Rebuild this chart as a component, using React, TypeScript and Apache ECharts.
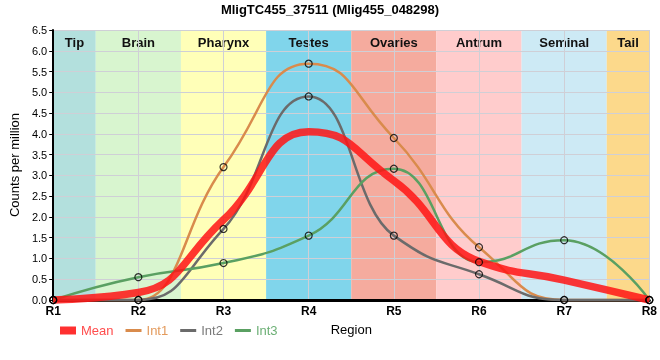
import React, { useEffect, useRef } from "react";
import * as echarts from "echarts";

const regionLabels = ["R1", "R2", "R3", "R4", "R5", "R6", "R7", "R8"];
const xPos = [1, 2, 3, 4, 5, 6, 7, 8];
const meanVals = [0, 0.18, 1.93, 4.05, 2.87, 0.93, 0.48, 0];
const int1Vals = [0, 0, 3.2, 5.69, 3.9, 1.27, 0, 0];
const int2Vals = [0, 0, 1.71, 4.9, 1.55, 0.62, 0, 0];
const int3Vals = [0, 0.55, 0.89, 1.55, 3.16, 0.91, 1.44, 0];

const bandNames = ["Tip", "Brain", "Pharynx", "Testes", "Ovaries", "Antrum", "Seminal", "Tail"];
const bandStarts = [1, 1.5, 2.5, 3.5, 4.5, 5.5, 6.5, 7.5];
const bandEnds = [1.5, 2.5, 3.5, 4.5, 5.5, 6.5, 7.5, 8];
const bandColors = ["#b3e0dd", "#d8f5cf", "#ffffb8", "#80d5eb", "#f5ab9e", "#ffcccc", "#cdeaf5", "#fcd98b"];

const FONT = "'Liberation Sans', Arial, sans-serif";
const ALPHA = 0.5;

// smooth curve through pixel points: harmonic-mean tangents, flat at extrema
function smoothPath(pts: number[][]): string {
  const n = pts.length;
  const s: number[] = [];
  for (let i = 0; i < n - 1; i++) {
    s.push((pts[i + 1][1] - pts[i][1]) / (pts[i + 1][0] - pts[i][0]));
  }
  const m: number[] = pts.map((_, i) => {
    if (i === 0 || i === n - 1) return 0;
    const a = s[i - 1], b = s[i];
    if (a * b <= 0) return 0;
    return (2 * a * b) / (a + b);
  });
  let d = `M${pts[0][0]},${pts[0][1]}`;
  for (let i = 0; i < n - 1; i++) {
    const p0 = pts[i], p1 = pts[i + 1];
    const dx = p1[0] - p0[0];
    const c1 = i === 0 ? p0 : [p0[0] + ALPHA * dx, p0[1] + ALPHA * dx * m[i]];
    const c2 = i + 1 === n - 1 ? p1 : [p1[0] - ALPHA * dx, p1[1] - ALPHA * dx * m[i + 1]];
    d += ` C${c1[0]},${c1[1]} ${c2[0]},${c2[1]} ${p1[0]},${p1[1]}`;
  }
  return d;
}

function curveSeries(name: string, vals: number[], stroke: string, legendColor: string, width: number, z: number) {
  return {
    name,
    type: "custom",
    z,
    itemStyle: { color: legendColor },
    data: [[xPos[0], vals[0]]],
    encode: { x: 0, y: 1 },
    renderItem: (params: any, api: any) => {
      const pts = xPos.map((x, i) => api.coord([x, vals[i]]));
      return {
        type: "path",
        silent: true,
        shape: { pathData: smoothPath(pts) },
        style: { stroke, lineWidth: width, fill: "none", lineJoin: "round" },
      };
    },
  };
}

const linePathIcon = "path://M0,0H16V3H0Z";

export default function App() {
  const ref = useRef<HTMLDivElement>(null);
  useEffect(() => {
    if (!ref.current) return;
    const chart = echarts.init(ref.current, null, { renderer: "svg" });
    const markerData: number[][] = [];
    [int1Vals, int2Vals, int3Vals].forEach((arr) => arr.forEach((v, i) => markerData.push([xPos[i], v])));
    chart.setOption({
      animation: false,
      textStyle: { fontFamily: FONT },
      title: {
        text: "MligTC455_37511 (Mlig455_048298)",
        left: "center",
        top: 3,
        padding: 0,
        textStyle: { fontFamily: FONT, fontSize: 13, fontWeight: "bold", color: "#000" },
      },
      grid: { left: 50, right: 8, top: 30, bottom: 60 },
      legend: {
        left: 55,
        top: 319,
        itemWidth: 16,
        itemHeight: 8,
        itemGap: 12,
        textStyle: { fontFamily: FONT, fontSize: 13 },
        data: [
          { name: "Mean", icon: "rect", itemStyle: { color: "#ff3030" }, textStyle: { color: "#ff4d4d" } },
          { name: "Int1", icon: linePathIcon, itemStyle: { color: "#d98b4c" }, textStyle: { color: "#e39a5c" } },
          { name: "Int2", icon: linePathIcon, itemStyle: { color: "#6b6b6b" }, textStyle: { color: "#7a7a7a" } },
          { name: "Int3", icon: linePathIcon, itemStyle: { color: "#5aa062" }, textStyle: { color: "#6db076" } },
        ],
      },
      xAxis: {
        type: "value",
        min: 1,
        max: 8,
        interval: 1,
        z: 1,
        name: "Region",
        nameLocation: "middle",
        nameGap: 23,
        nameTextStyle: { fontFamily: FONT, fontSize: 13, color: "#000" },
        axisLine: { show: true, lineStyle: { color: "#000", width: 3 } },
        axisTick: { show: false },
        axisLabel: {
          formatter: (v: number) => regionLabels[Math.round(v) - 1] ?? "",
          fontFamily: FONT,
          fontSize: 12,
          fontWeight: "bold",
          color: "#000",
          margin: 5,
        },
        splitLine: { show: true, lineStyle: { color: "#cfcfd6", width: 1 } },
      },
      yAxis: {
        type: "value",
        min: 0,
        max: 6.5,
        interval: 0.5,
        z: 1,
        name: "Counts per million",
        nameLocation: "middle",
        nameGap: 22,
        nameTextStyle: { fontFamily: FONT, fontSize: 13, color: "#000" },
        axisLine: { show: true, lineStyle: { color: "#000", width: 2 } },
        axisTick: { show: true, length: 4, lineStyle: { color: "#000" } },
        axisLabel: {
          formatter: (v: number) => v.toFixed(1),
          fontFamily: FONT,
          fontSize: 11,
          color: "#000",
          margin: 6,
        },
        splitLine: { show: true, lineStyle: { color: "#cfcfd6", width: 1 } },
      },
      series: [
        {
          name: "bands",
          type: "custom",
          z: 0,
          silent: true,
          data: bandNames.map((n, i) => [bandStarts[i], bandEnds[i], i]),
          encode: { x: [0, 1] },
          renderItem: (params: any, api: any) => {
            const i = api.value(2);
            const p0 = api.coord([api.value(0), 6.5]);
            const p1 = api.coord([api.value(1), 0]);
            return {
              type: "group",
              children: [
                {
                  type: "rect",
                  shape: { x: p0[0], y: p0[1], width: p1[0] - p0[0], height: p1[1] - p0[1] },
                  style: { fill: bandColors[i] },
                },
                {
                  type: "text",
                  x: (p0[0] + p1[0]) / 2,
                  y: p0[1] + 12,
                  style: {
                    text: bandNames[i],
                    fill: "#111",
                    fontFamily: FONT,
                    fontSize: 13,
                    fontWeight: "bold",
                    align: "center",
                    verticalAlign: "middle",
                  },
                },
              ],
            };
          },
        },
        curveSeries("Int1", int1Vals, "#d98b4c", "#d98b4c", 2.5, 2),
        curveSeries("Int2", int2Vals, "#6b6b6b", "#6b6b6b", 2.5, 2),
        curveSeries("Int3", int3Vals, "#5aa062", "#5aa062", 2.5, 2),
        curveSeries("Mean", meanVals, "rgba(255,20,20,0.85)", "#ff3030", 7.5, 3),
        {
          name: "markers",
          type: "scatter",
          z: 4,
          silent: true,
          symbol: "circle",
          symbolSize: 7,
          itemStyle: { color: "rgba(0,0,0,0)", borderColor: "#000", borderWidth: 1.2 },
          data: markerData,
        },
      ],
    });
    return () => chart.dispose();
  }, []);
  return <div ref={ref} style={{ position: "fixed", left: 0, top: 0, width: 660, height: 360 }} />;
}
